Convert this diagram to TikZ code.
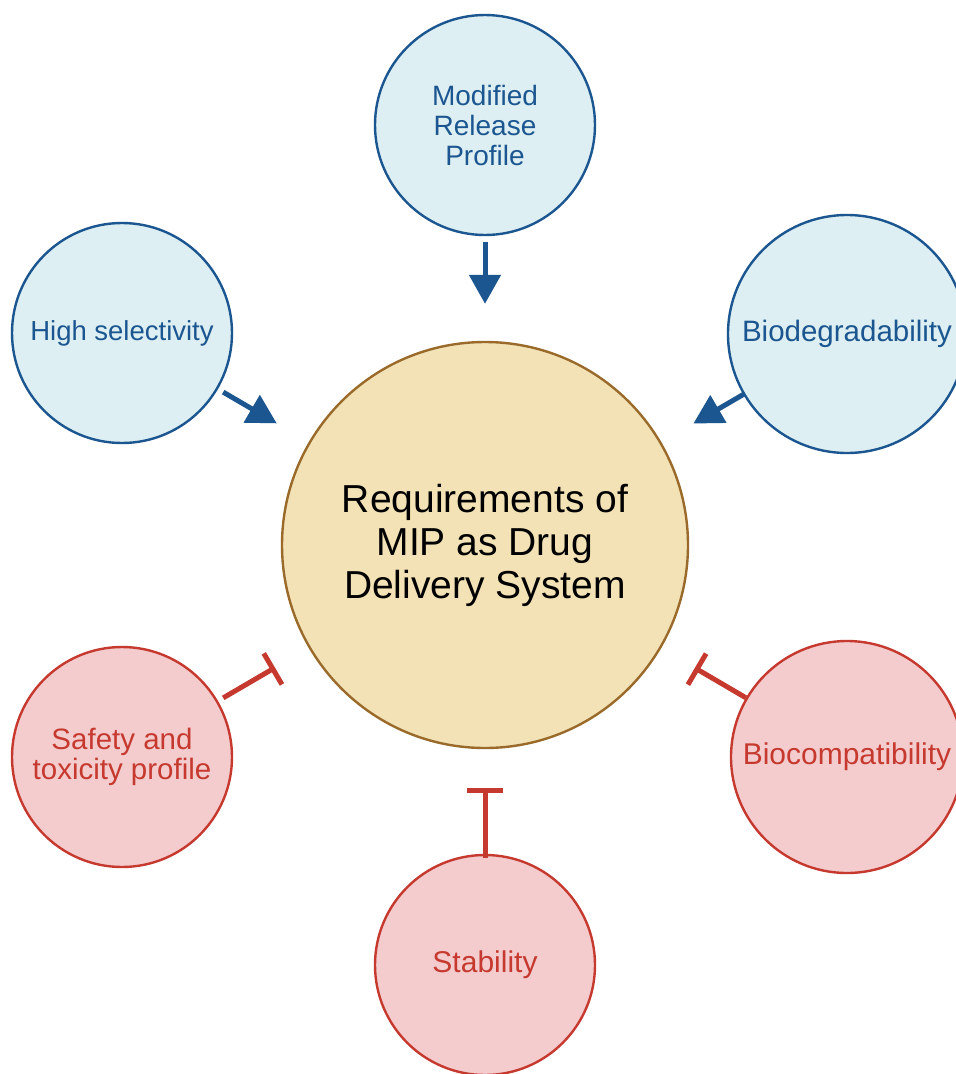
\documentclass[tikz,border=0pt]{standalone}
\usepackage{fontspec}
\setmainfont{Liberation Sans}
\usetikzlibrary{arrows.meta}
\definecolor{goodline}{HTML}{1B5690}
\definecolor{goodfill}{HTML}{DDEFF3}
\definecolor{badline}{HTML}{C6392F}
\definecolor{badfill}{HTML}{F4CCCE}
\definecolor{hubline}{HTML}{9A6A2B}
\definecolor{hubfill}{HTML}{F2E2B6}
\newcommand\reqsize[1]{\fontsize{#1}{30}\selectfont}

\begin{document}
\begin{tikzpicture}[x=1pt,y=-1pt,
 req/.style={circle,inner sep=0pt,line width=2.4pt,align=center,font=\reqsize{28}},
 good/.style={req,draw=goodline,fill=goodfill,text=goodline},
 bad/.style={req,draw=badline,fill=badfill,text=badline},
 push/.style={goodline,line width=5pt,-{Triangle[length=29pt,width=31pt]},shorten <=6pt,shorten >=37pt},
 block/.style={badline,line width=5pt,-{Bar[width=36pt]},shorten <=6pt,shorten >=39pt}]
 \clip(0,0)rectangle(956,1074);
 % centre
 \node[circle,inner sep=0pt,minimum size=406pt,line width=2.4pt,draw=hubline,fill=hubfill,align=center,
   font=\fontsize{39}{43}\selectfont](hub)at(485,545){Requirements of\\MIP as Drug\\Delivery System};
 % wanted properties
 \node[good,minimum size=220pt](release)at(485,125){Modified\\Release\\Profile};
 \node[good,minimum size=220pt,font=\reqsize{27.5}](select)at(122,333){High selectivity};
 \node[good,minimum size=238pt,font=\reqsize{29.5}](degrade)at(847,334){Biodegradability};
 % limiting properties
 \node[bad,minimum size=220pt,font=\reqsize{29.5}](safety)at(122,757){Safety and\\toxicity profile};
 \node[bad,minimum size=232pt,font=\reqsize{30}](compat)at(847,757){Biocompatibility};
 \node[bad,minimum size=220pt,font=\reqsize{30}](stable)at(485,965){Stability};
 \draw[push](release)--(hub);
 \draw[push](select)--(hub);
 \draw[push,shorten <=-2pt](degrade)--(hub);
 \draw[block](safety)--(hub);
 \draw[block,shorten <=0pt](compat)--(hub);
 \draw[block,shorten <=-4pt](stable)--(hub);
\end{tikzpicture}
\end{document}
